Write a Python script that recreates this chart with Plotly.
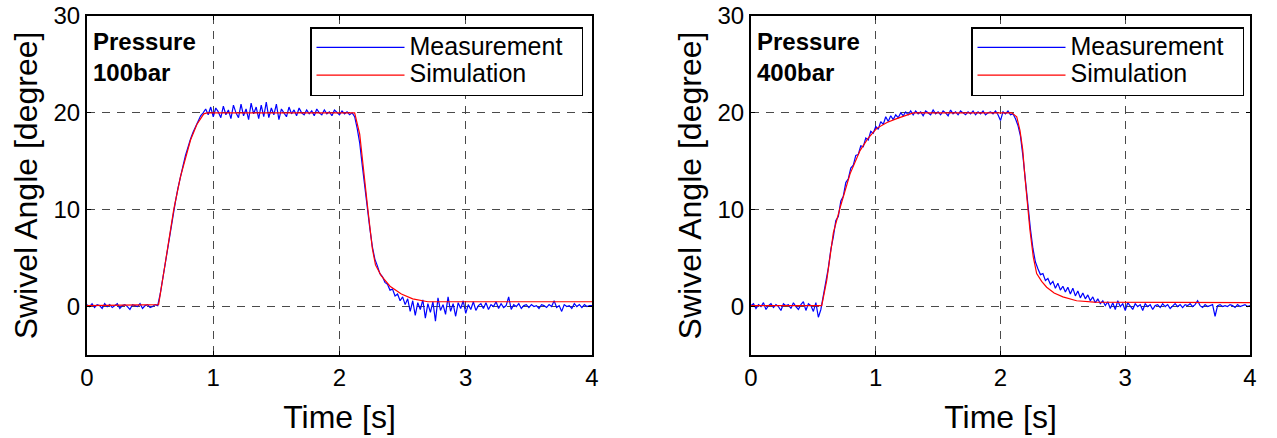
import plotly.graph_objects as go

# ---------------- data ----------------
meas_dt = 0.02
meas_t = [round(i * meas_dt, 2) for i in range(201)]

meas_100 = [
    0.2, 0.0, 0.3, -0.1, 0.2, 0.1, -0.2, 0.3, 0.0, 0.2, -0.1, 0.1, 0.3, -0.2, 0.1,
    0.2, 0.0, -0.3, 0.2, 0.1, 0.0, 0.3, -0.2, 0.1, 0.2, -0.1, 0.0, 0.2, 0.1,
    1.3, 2.9, 4.6, 6.2, 7.8, 9.5, 10.8, 12.2, 13.5, 14.5, 15.6, 16.5, 17.3, 18.0,
    18.6, 19.2, 19.7, 20.0, 20.4, 19.8, 20.6,
    19.6, 20.5, 20.1, 19.5, 20.7, 19.8, 20.3, 19.4, 20.8, 20.0,
    19.5, 20.9, 19.7, 20.4, 19.3, 21.0, 19.9, 20.6, 19.4, 20.8,
    19.6, 21.1, 19.5, 20.5, 19.8, 20.9, 19.3, 20.4, 20.0, 19.6,
    20.6, 19.9, 20.3, 19.7, 20.5, 20.0, 19.8, 20.3, 19.9, 20.2,
    19.7, 20.4, 20.0, 19.8, 20.3, 19.9, 20.1, 19.7, 20.3, 20.0,
    19.8, 20.2, 19.9, 20.1, 19.8, 20.0,
    19.6, 18.4, 16.9, 14.6, 12.3, 10.2, 8.1, 6.2, 4.9, 4.2,
    3.4, 3.1, 2.5, 2.3, 1.7, 1.8, 1.1, 1.3, 0.6, 1.0,
    0.2, 0.8, -0.5, 0.6, -0.9, 0.4, -0.3, 0.7, -1.2, 0.3,
    -0.6, 0.5, -1.5, 0.9, -0.4, 0.2, -0.8, 1.0, -0.5, 0.3,
    -1.0, 0.4, -0.2, 0.6, -0.7, 0.2, -0.3, 0.5, -0.4, 0.1,
    0.3, -0.2, 0.4, -0.3, 0.2, 0.0, 0.5, -0.2, 0.3, -0.1,
    0.1, 1.0, -0.3, 0.2, 0.0, 0.3, -0.2, 0.1, 0.2, -0.1,
    0.2, 0.0, 0.1, -0.2, 0.2, 0.1, -0.1, 0.2, 0.0, 0.6,
    -0.1, 0.1, -0.5, 0.2, 0.0, 0.1, -0.2, 0.3, 0.0, 0.2,
    -0.1, 0.2, 0.0, 0.1, 0.1,
]

meas_400 = [
    0.1, 0.3, -0.2, 0.2, 0.0, 0.4, -0.3, 0.1, 0.3, -0.1,
    0.2, 0.0, -0.4, 0.3, 0.1, 0.2, -0.2, 0.4, 0.0, -0.3,
    0.2, 0.5, -0.4, 0.3, 0.1, -0.5, 0.4, -1.1,
    -0.3,
    1.0, 2.5, 4.0, 5.9, 7.2, 8.9, 9.3, 10.9, 11.4, 12.8,
    13.2, 14.3, 14.6, 15.6, 15.7, 16.6, 16.5, 17.4, 17.2, 18.1,
    17.9, 18.6, 18.3, 19.1, 18.8, 19.6, 19.1, 19.7, 19.3, 19.8,
    19.5, 20.0, 19.7, 20.1, 19.8, 20.2,
    19.8, 20.2, 19.9, 20.1, 19.7, 20.2, 20.0, 19.8, 20.3, 19.9,
    20.1, 19.8, 20.2, 20.0, 19.7, 20.3, 19.9, 20.1, 19.8, 20.2,
    20.0, 19.8, 20.1, 19.9, 20.2, 19.8, 20.1, 19.9, 20.2, 19.8,
    20.0, 20.1, 19.9, 20.2, 19.8, 19.2, 20.1, 19.9, 20.2, 19.8,
    19.9, 19.4, 18.7, 17.6, 15.5, 12.9, 10.3, 8.0, 6.0, 4.6,
    3.9, 3.3, 3.4, 2.7, 2.9, 2.3, 2.6, 1.9, 2.4, 1.7,
    2.1, 1.5, 2.0, 1.3, 1.9, 1.1, 1.6, 0.9, 1.4, 0.8,
    1.2, 0.6, 1.0, 0.4, 0.8, 0.3, 0.6, 0.1, 0.5, -0.2,
    0.4, -0.3, 0.6, 0.0, 0.3, -0.4, 0.4, 0.1, -0.3, 0.3,
    0.0, 0.2, -0.4, 0.3, 0.0, 0.2, -0.3, 0.1, 0.2, -0.1,
    0.3, 0.0, 0.2, -0.2, 0.1, 0.3, 0.0, 0.2, -0.1, 0.2,
    0.1, 0.3, 0.0, 0.2, 0.6, 0.1, -0.1, 0.2, 0.0, 0.1,
    0.2, -1.0, 0.1, 0.2, 0.0, 0.1, 0.0, 0.2, 0.1, -0.1,
    0.2, 0.0, 0.1, 0.2, 0.0, 0.1,
]

sim_100_t = [0, 0.567, 0.62, 0.687, 0.74, 0.82, 0.87, 0.925, 0.95, 2.12, 2.16, 2.19,
             2.225, 2.26, 2.285, 2.33, 2.40, 2.49, 2.58, 2.70, 4.0]
sim_100 = [0.1, 0.2, 4.5, 10.0, 13.4, 17.2, 18.8, 19.9, 20.0, 20.0, 17.8, 14.0,
           10.0, 6.0, 4.3, 3.2, 2.1, 1.3, 0.8, 0.5, 0.5]

sim_400_t = [0, 0.567, 0.607, 0.66, 0.714, 0.794, 0.874, 0.94, 1.008, 1.09, 1.168, 1.275,
             1.3, 2.09, 2.13, 2.156, 2.178, 2.195, 2.22, 2.236, 2.263, 2.29, 2.33, 2.37,
             2.43, 2.50, 2.61, 2.75, 4.0]
sim_400 = [0.1, 0.1, 2.7, 7.6, 10.2, 13.7, 16.1, 17.4, 18.4, 19.0, 19.4, 19.95,
           20.0, 20.0, 19.6, 18.2, 16.2, 13.5, 9.9, 7.9, 5.1, 3.4, 2.6, 2.0,
           1.4, 1.0, 0.6, 0.45, 0.4]

series_names = ["Measurement", "Simulation"]
panel_labels = ["Pressure<br>100bar", "Pressure<br>400bar"]
x_ticks = [0, 1, 2, 3, 4]
y_ticks = [0, 10, 20, 30]

# ---------------- figure ----------------
FONT = "Liberation Sans, Arial, Helvetica, sans-serif"
W, H = 1277, 438
BLUE = "rgb(0,0,255)"
RED = "rgb(255,0,0)"


def legend_label(name):
    # larger visible text, with a little trailing padding inside the legend box
    return '<span style="font-size:25px">' + name + "\u00a0\u00a0</span>"


fig = go.Figure()
panels = [(meas_100, sim_100_t, sim_100, "x", "y", "legend"),
          (meas_400, sim_400_t, sim_400, "x2", "y2", "legend2")]
for meas, st, sv, xa, ya, lg in panels:
    fig.add_trace(go.Scatter(x=meas_t, y=meas, mode="lines",
                             name=legend_label(series_names[0]),
                             line=dict(color=BLUE, width=1.2), xaxis=xa, yaxis=ya,
                             legend=lg))
    fig.add_trace(go.Scatter(x=st, y=sv, mode="lines",
                             name=legend_label(series_names[1]),
                             line=dict(color=RED, width=1.2), xaxis=xa, yaxis=ya,
                             legend=lg))

axis_common = dict(
    showgrid=True, gridcolor="#4a4a4a", gridwidth=1.2, griddash="8px,7px",
    showline=True, linecolor="black", linewidth=2, mirror="ticks",
    ticks="inside", ticklen=4, tickcolor="black", zeroline=False,
    tickfont=dict(family=FONT, size=24, color="black"), automargin=False,
)

x_domains = [[87 / W, 592 / W], [751 / W, 1250 / W]]
for i, dom in enumerate(x_domains):
    sfx = "" if i == 0 else str(i + 1)
    fig.update_layout(**{
        "xaxis" + sfx: dict(axis_common, domain=dom, range=[0, 4], tickvals=x_ticks,
                            anchor="y" + sfx,
                            title=dict(text="Time [s]", standoff=16,
                                       font=dict(family=FONT, size=32, color="black"))),
        "yaxis" + sfx: dict(axis_common, domain=[0, 1], range=[-5, 30], tickvals=y_ticks,
                            anchor="x" + sfx,
                            title=dict(text="Swivel Angle [degree]", standoff=6,
                                       font=dict(family=FONT, size=32, color="black"))),
    })
    fig.add_annotation(text="<b>" + panel_labels[i] + "</b>", xref="x" + sfx + " domain",
                       yref="y" + sfx + " domain", x=0.008, y=0.97, xanchor="left",
                       yanchor="top", align="left", showarrow=False,
                       font=dict(family=FONT, size=24, color="black"))

legend_common = dict(bgcolor="white", bordercolor="black", borderwidth=1.5,
                     font=dict(family=FONT, size=19, color="black"),
                     xanchor="right", yanchor="top", itemwidth=88, tracegroupgap=0)
fig.update_layout(
    width=W, height=H,
    margin=dict(l=0, r=0, t=16, b=83),
    paper_bgcolor="white", plot_bgcolor="white",
    font=dict(family=FONT, color="black"),
    showlegend=True,
    legend=dict(legend_common, x=583 / W, y=(355 - 27) / 339),
    legend2=dict(legend_common, x=1244 / W, y=(355 - 27) / 339),
)

fig.write_html("out.html")
